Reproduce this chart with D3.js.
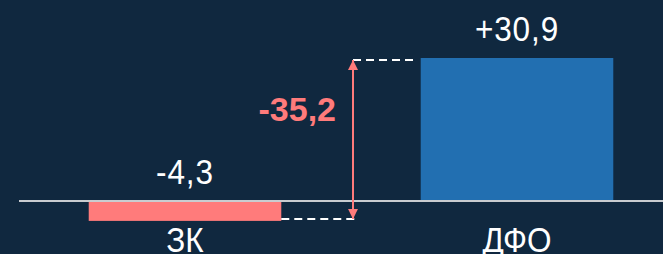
<!DOCTYPE html>
<html>
  <head>
    <meta charset="utf-8">
    <title>ЗК vs ДФО</title>
    <script src="https://d3js.org/d3.v7.min.js"></script>
    <style>
      body { margin: 0; background: #10283f; }
      svg { display: block; font-family: "Liberation Sans", Arial, sans-serif; }
      .value { fill: #fff; font-size: 35px; text-anchor: middle; letter-spacing: 1px; }
      .cat { fill: #fff; font-size: 35px; text-anchor: middle; }
      .diff { fill: #ff7b7b; font-size: 34px; font-weight: bold; text-anchor: end; }
      .dash { stroke: #fff; stroke-width: 2; stroke-dasharray: 8 5; }
    </style>
  </head>
  <body>
    <svg id="chart" width="663" height="254">
      <defs>
        <marker id="head" viewBox="0 0 10 10" refX="10" refY="5" markerWidth="5" markerHeight="6" orient="auto-start-reverse">
          <path d="M0,0 L10,5 L0,10 z" fill="#ff7b7b"></path>
        </marker>
      </defs>
    </svg>
    <script>
      // data
      const categories = ["ЗК", "ДФО"];
      const values = [-4.3, 30.9];
      const valueLabels = ["-4,3", "+30,9"];
      const diffLabel = "-35,2";
      const colors = ["#ff7b7b", "#226fb1"];

      const width = 663, height = 254;
      const svg = d3.select("#chart");

      const x = d3.scaleBand()
        .domain(categories)
        .range([19, 683])
        .paddingInner(0.42)
        .paddingOuter(0.21);
      const y = d3.scaleLinear()
        .domain([0, d3.max(values)])
        .range([201, 58]);

      // bars
      svg.selectAll(".bar")
          .data(values)
        .enter().append("rect")
          .attr("class", "bar")
          .attr("x", (d, i) => x(categories[i]))
          .attr("width", x.bandwidth())
          .attr("y", d => y(Math.max(0, d)))
          .attr("height", d => Math.abs(y(d) - y(0)))
          .attr("fill", (d, i) => colors[i]);

      // zero line
      svg.append("line")
        .attr("x1", 19).attr("x2", width)
        .attr("y1", y(0)).attr("y2", y(0))
        .attr("stroke", "#c9ccd0")
        .attr("stroke-width", 2);

      // value labels (slightly condensed)
      svg.selectAll(".value")
          .data(values)
        .enter().append("text")
          .attr("class", "value")
          .attr("transform", (d, i) => "translate(" + (x(categories[i]) + x.bandwidth() / 2) + "," + (y(Math.max(0, d)) - 17) + ") scale(0.9,1)")
          .text((d, i) => valueLabels[i]);

      // category labels (slightly condensed)
      svg.selectAll(".cat")
          .data(categories)
        .enter().append("text")
          .attr("class", "cat")
          .attr("transform", d => "translate(" + (x(d) + x.bandwidth() / 2) + ",252) scale(0.9,1)")
          .text(d => d);

      // difference marker
      const xa = (x(categories[0]) + x.bandwidth() + x(categories[1])) / 2 + 2;
      const yTop = y(values[1]) + 2, yBot = y(values[0]) - 2;
      svg.append("line")
        .attr("class", "dash")
        .attr("x1", xa).attr("x2", x(categories[1]) - 4)
        .attr("y1", yTop).attr("y2", yTop);
      svg.append("line")
        .attr("class", "dash")
        .attr("x1", x(categories[0]) + x.bandwidth()).attr("x2", xa + 3)
        .attr("y1", yBot).attr("y2", yBot);
      svg.append("line")
        .attr("x1", xa).attr("x2", xa)
        .attr("y1", yTop).attr("y2", yBot)
        .attr("stroke", "#ff7b7b")
        .attr("stroke-width", 2)
        .attr("marker-start", "url(#head)")
        .attr("marker-end", "url(#head)");
      svg.append("text")
        .attr("class", "diff")
        .attr("x", xa - 17)
        .attr("y", y(17.3))
        .text(diffLabel);
    </script>
  </body>
</html>
